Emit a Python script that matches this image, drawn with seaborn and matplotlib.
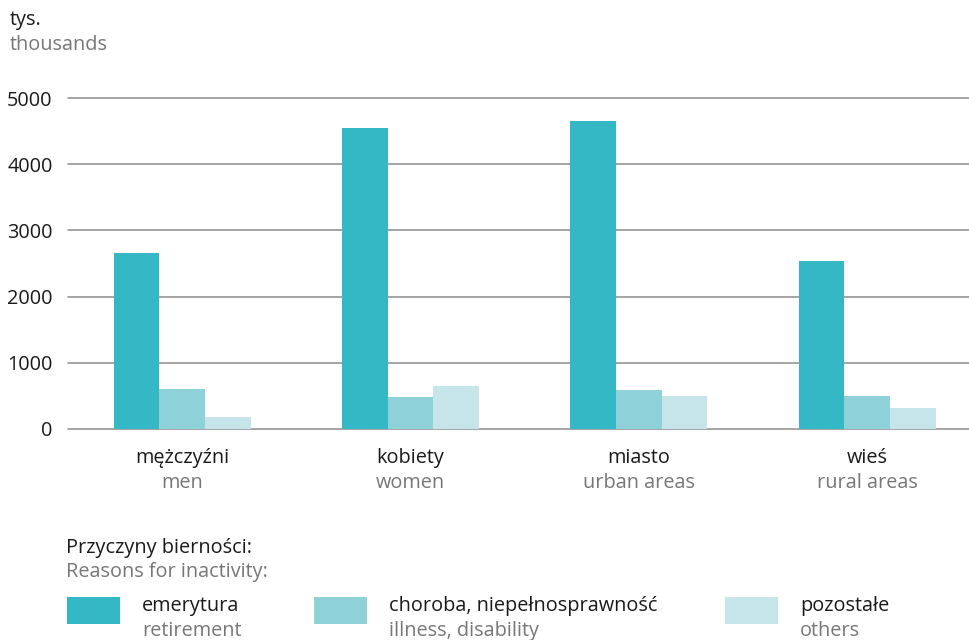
import matplotlib
matplotlib.use("Agg")
import matplotlib.pyplot as plt
import matplotlib.transforms as mtransforms
from matplotlib.patches import Rectangle
import seaborn as sns
import pandas as pd

categories_pl = ["mężczyźni", "kobiety", "miasto", "wieś"]
categories_en = ["men", "women", "urban areas", "rural areas"]
reasons_pl = ["emerytura", "choroba, niepełnosprawność", "pozostałe"]
reasons_en = ["retirement", "illness, disability", "others"]
retirement = [2660, 4540, 4650, 2545]
illness = [600, 480, 595, 505]
others = [180, 645, 505, 315]
yticks = [0, 1000, 2000, 3000, 4000, 5000]
colors = ["#35B8C6", "#8FD1D9", "#C6E5EA"]

rows = []
for vals, r in zip([retirement, illness, others], reasons_pl):
    for c, v in zip(categories_pl, vals):
        rows.append({"cat": c, "reason": r, "value": v})
df = pd.DataFrame(rows)

sns.set_theme(style="white")
plt.rcParams["font.family"] = ["Open Sans", "DejaVu Sans"]
BLACK = "#1a1a1a"
GRAY = "#777777"
FS = 14.3

fig = plt.figure(figsize=(9.7, 6.4), dpi=100)
ax = fig.add_axes([68/970, (640-429)/640, 1-68/970, 331/640])

sns.barplot(data=df, x="cat", y="value", hue="reason", order=categories_pl,
            hue_order=reasons_pl, palette=colors, width=0.6, ax=ax,
            saturation=1, legend=False, edgecolor="none", linewidth=0, zorder=2)

ax.set_xlim(-0.5, 3.45)
ax.set_ylim(0, 5000)
ax.set_yticks(yticks)
ax.set_yticklabels([str(t) for t in yticks], fontsize=FS, color=BLACK)
for t in yticks:
    ax.axhline(t, color="#8c8c8c", lw=1.1, zorder=1, clip_on=False)
for s in ax.spines.values():
    s.set_visible(False)
ax.tick_params(axis="y", length=0, pad=11)
ax.tick_params(axis="x", length=0, pad=0)
ax.set_xlabel("")
ax.set_ylabel("")
ax.set_xticks(range(len(categories_pl)))
ax.set_xticklabels([])

trans = mtransforms.blended_transform_factory(ax.transData, fig.transFigure)
for i, (pl, en) in enumerate(zip(categories_pl, categories_en)):
    ax.text(i, 1 - 458/640, pl, transform=trans, ha="center", va="center",
            fontsize=FS, color=BLACK)
    ax.text(i, 1 - 483/640, en, transform=trans, ha="center", va="center",
            fontsize=FS, color=GRAY)

fig.text(10/970, 1 - 20/640, "tys.", ha="left", va="center", fontsize=FS, color=BLACK)
fig.text(10/970, 1 - 45/640, "thousands", ha="left", va="center", fontsize=FS, color=GRAY)

fig.text(66/970, 1 - 548/640, "Przyczyny bierności:", ha="left", va="center", fontsize=FS, color=BLACK)
fig.text(66/970, 1 - 572/640, "Reasons for inactivity:", ha="left", va="center", fontsize=FS, color=GRAY)

px = [67, 314, 725]
for x0, c, pl, en in zip(px, colors, reasons_pl, reasons_en):
    fig.patches.append(Rectangle((x0/970, 1 - 624/640), 53/970, 27/640,
                                 transform=fig.transFigure, facecolor=c, edgecolor="none"))
    fig.text((x0 + 75)/970, 1 - 606/640, pl, ha="left", va="center", fontsize=FS, color=BLACK)
    fig.text((x0 + 75)/970, 1 - 631/640, en, ha="left", va="center", fontsize=FS, color=GRAY)

fig.savefig("out.png", dpi=100)
